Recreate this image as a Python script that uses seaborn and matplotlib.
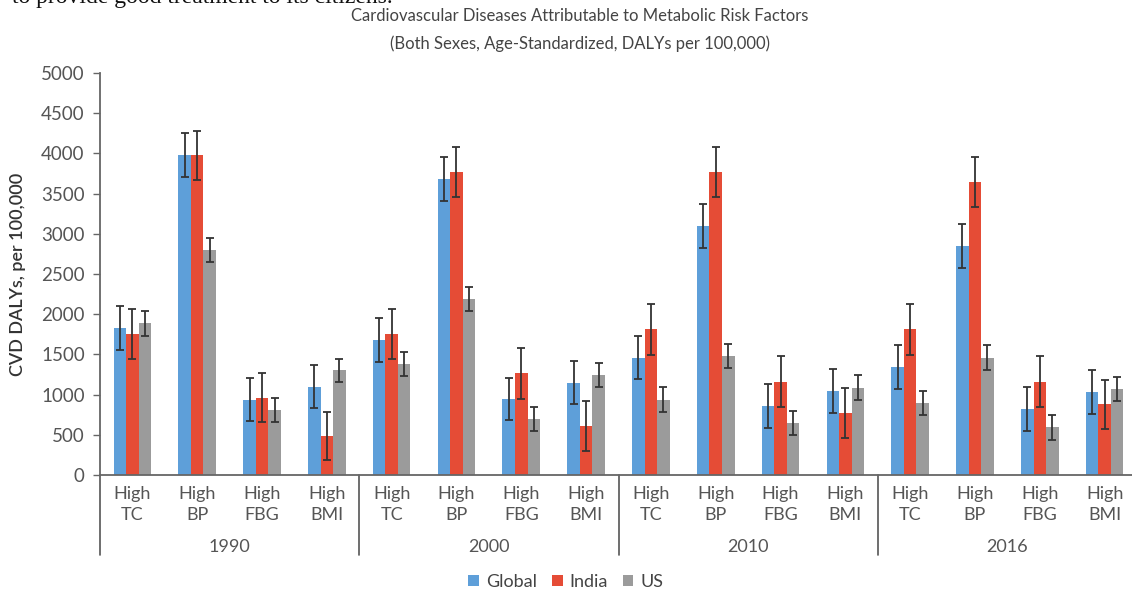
import matplotlib
matplotlib.use("Agg")
import numpy as np
import pandas as pd
import matplotlib.pyplot as plt
import matplotlib.transforms as mtransforms
from matplotlib.patches import Patch
import seaborn as sns

years = ["1990", "2000", "2010", "2016"]
factors = ["TC", "BP", "FBG", "BMI"]
countries = ["Global", "India", "US"]

global_vals = [1830, 3975, 935, 1100, 1680, 3680, 945, 1150, 1460, 3100, 860, 1045, 1340, 2850, 820, 1030]
india_vals = [1750, 3975, 960, 485, 1750, 3765, 1265, 615, 1810, 3765, 1160, 775, 1810, 3650, 1160, 880]
us_vals = [1885, 2800, 810, 1300, 1380, 2185, 700, 1245, 935, 1485, 650, 1085, 900, 1460, 595, 1070]

global_err = [272, 274, 269, 270, 274, 270, 261, 270, 272, 272, 274, 274, 276, 274, 276, 274]
india_err = [311, 309, 306, 302, 311, 311, 317, 311, 315, 311, 315, 311, 315, 311, 315, 306]
us_err = [157, 151, 150, 149, 147, 149, 150, 149, 155, 149, 151, 155, 149, 155, 155, 155]

colors = ["#5e9fd9", "#e54c36", "#9b9b9b"]

keys = [f"{y} {f}" for y in years for f in factors]
tick_labels = [f"High\n{f}" for y in years for f in factors]

df = pd.DataFrame({
    "key": keys * 3,
    "country": np.repeat(countries, len(keys)),
    "value": global_vals + india_vals + us_vals,
})
errs = [global_err, india_err, us_err]
vals = [global_vals, india_vals, us_vals]

sns.set_style("white")
plt.rcParams["font.family"] = ["Lato", "DejaVu Sans"]

W, H = 1132, 592
fig = plt.figure(figsize=(W / 100, H / 100), dpi=100)
ax = fig.add_axes([100 / W, (H - 475) / H, 1037 / W, 402 / H])

sns.barplot(data=df, x="key", y="value", hue="country", order=keys,
            hue_order=countries, palette=colors, width=0.58,
            errorbar=None, legend=False, ax=ax, saturation=1, linewidth=0)

for cont, v, e in zip(ax.containers, vals, errs):
    xs = [p.get_x() + p.get_width() / 2 for p in cont]
    ax.errorbar(xs, v, yerr=e, fmt="none", ecolor="#333333",
                elinewidth=1.3, capsize=3, capthick=1.3)

ax.set_xlim(-0.5, 15.5)
ax.set_ylim(0, 5000)
ax.set_yticks(range(0, 5001, 500))
ax.set_xticks(range(16))
ax.set_xticklabels(tick_labels, fontsize=13, color="#555555", linespacing=1.35)
ax.tick_params(axis="x", length=0, pad=8)
ax.tick_params(axis="y", length=5, width=1, color="#666666", labelsize=13.5,
               labelcolor="#555555", pad=6, left=True)
ax.set_xlabel("")
ax.set_ylabel("CVD DALYs, per 100,000", fontsize=13, color="#333333",
              fontweight="semibold")
ax.yaxis.set_label_coords(-74 / 1037, 0.5)

for s in ["top", "right"]:
    ax.spines[s].set_visible(False)
for s in ["left", "bottom"]:
    ax.spines[s].set_color("#666666")
    ax.spines[s].set_linewidth(1.3)

trans = mtransforms.blended_transform_factory(ax.transData, ax.transAxes)
for b in [-0.5, 3.5, 7.5, 11.5]:
    ax.plot([b, b], [0, -80 / 402], transform=trans, color="#555555",
            lw=1.2, clip_on=False)
for i, y in enumerate(years):
    ax.text(i * 4 + 1.5, -72 / 402, y, transform=trans, ha="center",
            va="center", fontsize=13, color="#555555")

fig.text(580 / W, 1 - 16 / H, "Cardiovascular Diseases Attributable to Metabolic Risk Factors",
         ha="center", va="center", fontsize=12, color="#444444")
fig.text(580 / W, 1 - 44 / H, "(Both Sexes, Age-Standardized, DALYs per 100,000)",
         ha="center", va="center", fontsize=12, color="#444444")
fig.text(12 / W, 1 - 3 / H, "to provide good treatment to its citizens.",
         ha="left", va="baseline", fontsize=17, color="#111111",
         family=["Liberation Serif", "DejaVu Serif"])

handles = [Patch(facecolor=c, edgecolor="none", label=n) for c, n in zip(colors, countries)]
fig.legend(handles=handles, loc="center", bbox_to_anchor=(566 / W, 1 - 582 / H),
           ncol=3, frameon=False, fontsize=13, handlelength=0.6,
           handleheight=0.6, handletextpad=0.4, columnspacing=0.8,
           labelcolor="#444444")

fig.savefig("out.png", dpi=100)
